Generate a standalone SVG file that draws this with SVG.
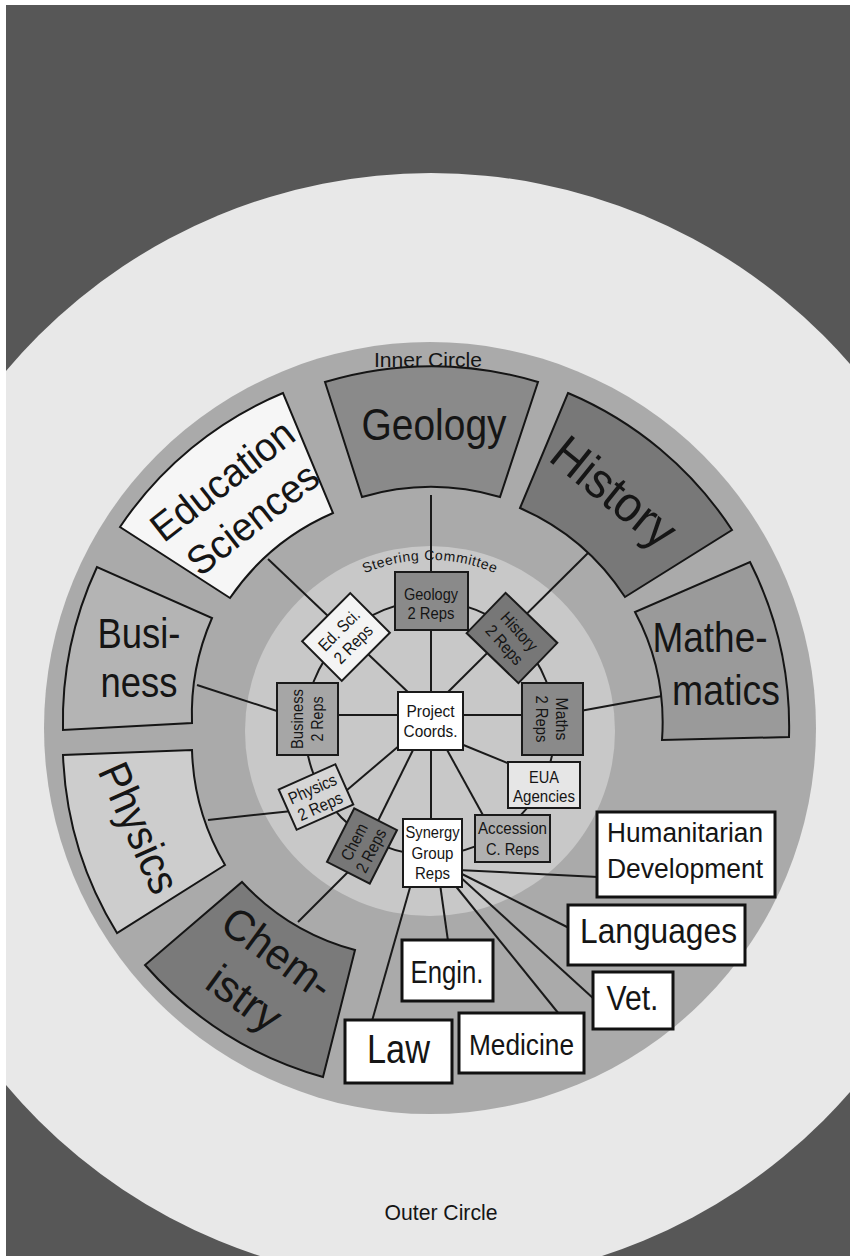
<svg xmlns="http://www.w3.org/2000/svg" width="850" height="1256" viewBox="0 0 850 1256">
<defs>
<style>
.sec{stroke:#151515;stroke-width:2}
.box{stroke:#1a1a1a;stroke-width:2}
.obox{fill:#fff;stroke:#111;stroke-width:3}
.t{font-family:"Liberation Sans",Arial,sans-serif;fill:#151515;text-anchor:middle}
.s{font-size:17px}
#connectors line,#connectors ellipse{stroke:#1a1a1a;stroke-width:2;fill:none}
</style>
<clipPath id="frame"><rect x="6" y="5" width="844" height="1251"/></clipPath>
<path id="steerArc" d="M262,728 A168,168 0 0 1 598,728"/>
</defs>
<rect width="850" height="1256" fill="#fff"/>
<g id="background" clip-path="url(#frame)">
<rect x="0" y="0" width="850" height="1256" fill="#575757"/>
<circle cx="431" cy="728" r="555" fill="#e8e8e8"/>
</g>
<circle id="inner-circle" cx="430" cy="728" r="386" fill="#aaaaaa"/>
<circle id="steering-circle" cx="430" cy="731" r="185" fill="#c8c8c8"/>
<text class="t" x="428" y="367" font-size="21" textLength="108" lengthAdjust="spacingAndGlyphs">Inner Circle</text>
<text class="t" x="441" y="1220" font-size="22" textLength="113" lengthAdjust="spacingAndGlyphs">Outer Circle</text>
<text class="t" font-size="14" letter-spacing="0.6" fill="#333"><textPath href="#steerArc" startOffset="50%">Steering Committee</textPath></text>

<g id="connectors">
<ellipse cx="430" cy="728" rx="125" ry="127"/>
<line x1="431" y1="495" x2="431" y2="695"/>
<line x1="588" y1="553" x2="444" y2="696"/>
<line x1="662" y1="696" x2="580" y2="711"/>
<line x1="463" y1="715" x2="522" y2="715"/>
<line x1="197" y1="685" x2="280" y2="712"/>
<line x1="338" y1="715" x2="398" y2="715"/>
<line x1="268" y1="559" x2="410" y2="694"/>
<line x1="208" y1="820" x2="292" y2="811"/>
<line x1="340" y1="796" x2="400" y2="745"/>
<line x1="298" y1="922" x2="350" y2="870"/>
<line x1="375" y1="827" x2="414" y2="748"/>
<line x1="431" y1="750" x2="431" y2="819"/>
<line x1="446" y1="748" x2="484" y2="817"/>
<line x1="461" y1="744" x2="510" y2="764"/>
<line x1="458" y1="870" x2="598" y2="877"/>
<line x1="458" y1="872" x2="569" y2="928"/>
<line x1="458" y1="875" x2="594" y2="999"/>
<line x1="454" y1="884" x2="559" y2="1014"/>
<line x1="440" y1="884" x2="448" y2="941"/>
<line x1="411" y1="884" x2="372" y2="1021"/>
</g>

<g id="geology">
<path class="sec" fill="#8a8a8a" d="M325,382 A366,366 0 0 1 538,382 L500,497 A244,244 0 0 0 362,497 Z"/>
<text class="t" x="434" y="440" font-size="44" textLength="145" lengthAdjust="spacingAndGlyphs">Geology</text>
</g>
<g id="history">
<path class="sec" fill="#787878" d="M568,393 A366,366 0 0 1 732,530 L625,597 A240,240 0 0 0 520,508 Z"/>
<text class="t" transform="translate(614,492) rotate(39)" y="17" font-size="50" textLength="145" lengthAdjust="spacingAndGlyphs">History</text>
</g>
<g id="mathematics">
<path class="sec" fill="#9a9a9a" d="M750,562 A366,366 0 0 1 789,737 L662,740 A236,236 0 0 0 635,612 Z"/>
<text class="t" x="710" y="652" font-size="42" textLength="115" lengthAdjust="spacingAndGlyphs">Mathe-</text>
<text class="t" x="726" y="705" font-size="42" textLength="108" lengthAdjust="spacingAndGlyphs">matics</text>
</g>
<g id="education-sciences">
<path class="sec" fill="#f6f6f6" d="M120,527 A366,366 0 0 1 283,393 L333,513 A240,240 0 0 0 230,598 Z"/>
<g transform="translate(237,499) rotate(-38)">
<text class="t" x="0" y="-10" font-size="40" textLength="170" lengthAdjust="spacingAndGlyphs">Education</text>
<text class="t" x="0" y="39" font-size="40" textLength="155" lengthAdjust="spacingAndGlyphs">Sciences</text>
</g>
</g>
<g id="business">
<path class="sec" fill="#b4b4b4" d="M63,730 A366,366 0 0 1 97,567 L212,618 A240,240 0 0 0 192,723 Z"/>
<text class="t" x="139" y="648" font-size="42" textLength="83" lengthAdjust="spacingAndGlyphs">Busi-</text>
<text class="t" x="139" y="697" font-size="42" textLength="77" lengthAdjust="spacingAndGlyphs">ness</text>
</g>
<g id="physics">
<path class="sec" fill="#cdcdcd" d="M117,933 A366,366 0 0 1 63,755 L192,750 A240,240 0 0 0 225,865 Z"/>
<text class="t" transform="translate(139,828) rotate(66)" y="15" font-size="44" textLength="138" lengthAdjust="spacingAndGlyphs">Physics</text>
</g>
<g id="chemistry">
<path class="sec" fill="#7a7a7a" d="M323,1077 A366,366 0 0 1 145,965 L242,882 A238,238 0 0 0 355,950 Z"/>
<g transform="translate(261,976) rotate(36)">
<text class="t" x="0" y="-13" font-size="44" textLength="125" lengthAdjust="spacingAndGlyphs">Chem-</text>
<text class="t" x="0" y="43" font-size="44">istry</text>
</g>
</g>

<g id="geology-reps">
<rect class="box" x="395" y="572" width="73" height="58" fill="#8a8a8a"/>
<text class="t s" x="431" y="600" textLength="54" lengthAdjust="spacingAndGlyphs">Geology</text>
<text class="t s" x="431" y="619" textLength="47" lengthAdjust="spacingAndGlyphs">2 Reps</text>
</g>
<g id="history-reps" transform="translate(512,638)">
<rect class="box" x="-36" y="-28" width="72" height="56" fill="#777" transform="rotate(44)"/>
<g transform="rotate(48)">
<text class="t s" x="0" y="-4" textLength="46" lengthAdjust="spacingAndGlyphs">History</text>
<text class="t s" x="0" y="16" textLength="47" lengthAdjust="spacingAndGlyphs">2 Reps</text>
</g>
</g>
<g id="edsci-reps" transform="translate(346,637)">
<rect class="box" x="-34" y="-28" width="68" height="56" fill="#f4f4f4" transform="rotate(-45)"/>
<g transform="rotate(-45)">
<text class="t s" x="0" y="-4" textLength="51" lengthAdjust="spacingAndGlyphs">Ed. Sci.</text>
<text class="t s" x="0" y="16" textLength="47" lengthAdjust="spacingAndGlyphs">2 Reps</text>
</g>
</g>
<g id="maths-reps">
<rect class="box" x="522" y="683" width="61" height="72" fill="#8a8a8a"/>
<g transform="translate(552,719) rotate(90)">
<text class="t s" x="0" y="-4" textLength="43" lengthAdjust="spacingAndGlyphs">Maths</text>
<text class="t s" x="0" y="16" textLength="47" lengthAdjust="spacingAndGlyphs">2 Reps</text>
</g>
</g>
<g id="business-reps">
<rect class="box" x="277" y="683" width="61" height="72" fill="#a6a6a6"/>
<g transform="translate(307,719) rotate(-90)">
<text class="t s" x="0" y="-4" textLength="60" lengthAdjust="spacingAndGlyphs">Business</text>
<text class="t s" x="0" y="16" textLength="45" lengthAdjust="spacingAndGlyphs">2 Reps</text>
</g>
</g>
<g id="physics-reps" transform="translate(316,797) rotate(-24)">
<rect class="box" x="-31" y="-22" width="62" height="44" fill="#d6d6d6"/>
<text class="t s" x="0" y="-3" textLength="51" lengthAdjust="spacingAndGlyphs">Physics</text>
<text class="t s" x="0" y="16" textLength="47" lengthAdjust="spacingAndGlyphs">2 Reps</text>
</g>
<g id="chem-reps" transform="translate(362,846) rotate(-63)">
<rect class="box" x="-30" y="-24" width="60" height="48" fill="#777"/>
<text class="t s" x="0" y="-3" textLength="39" lengthAdjust="spacingAndGlyphs">Chem</text>
<text class="t s" x="0" y="16" textLength="47" lengthAdjust="spacingAndGlyphs">2 Reps</text>
</g>
<g id="project-coords">
<rect class="box" x="398" y="692" width="65" height="58" fill="#fff"/>
<text class="t s" x="430.5" y="717" textLength="48" lengthAdjust="spacingAndGlyphs">Project</text>
<text class="t s" x="430.5" y="737" textLength="54" lengthAdjust="spacingAndGlyphs">Coords.</text>
</g>
<g id="eua-agencies">
<rect class="box" x="508" y="762" width="72" height="46" fill="#e6e6e6" stroke="#555"/>
<text class="t s" x="544" y="783" textLength="30" lengthAdjust="spacingAndGlyphs">EUA</text>
<text class="t s" x="544" y="802" textLength="62" lengthAdjust="spacingAndGlyphs">Agencies</text>
</g>
<g id="accession-reps">
<rect class="box" x="475" y="815" width="75" height="47" fill="#b0b0b0" stroke="#555"/>
<text class="t s" x="512.5" y="834" textLength="69" lengthAdjust="spacingAndGlyphs">Accession</text>
<text class="t s" x="512.5" y="855" textLength="53" lengthAdjust="spacingAndGlyphs">C. Reps</text>
</g>
<g id="synergy-reps">
<rect class="box" x="403" y="819" width="59" height="68" fill="#fff"/>
<text class="t s" x="432.5" y="838" textLength="54" lengthAdjust="spacingAndGlyphs">Synergy</text>
<text class="t s" x="432.5" y="859" textLength="42" lengthAdjust="spacingAndGlyphs">Group</text>
<text class="t s" x="432.5" y="879" textLength="35" lengthAdjust="spacingAndGlyphs">Reps</text>
</g>

<g id="humanitarian">
<rect class="obox" x="597" y="812" width="178" height="85"/>
<text class="t" x="685" y="842" font-size="27" textLength="156" lengthAdjust="spacingAndGlyphs">Humanitarian</text>
<text class="t" x="685" y="878" font-size="27" textLength="156" lengthAdjust="spacingAndGlyphs">Development</text>
</g>
<g id="languages">
<rect class="obox" x="568" y="905" width="177" height="60"/>
<text class="t" x="658.5" y="943" font-size="35" textLength="157" lengthAdjust="spacingAndGlyphs">Languages</text>
</g>
<g id="vet">
<rect class="obox" x="593" y="972" width="80" height="57"/>
<text class="t" x="632.5" y="1010" font-size="35" textLength="52" lengthAdjust="spacingAndGlyphs">Vet.</text>
</g>
<g id="medicine">
<rect class="obox" x="459" y="1013" width="125" height="60"/>
<text class="t" x="521.5" y="1055" font-size="30" textLength="105" lengthAdjust="spacingAndGlyphs">Medicine</text>
</g>
<g id="engin">
<rect class="obox" x="402" y="940" width="91" height="61"/>
<text class="t" x="447" y="983" font-size="31" textLength="73" lengthAdjust="spacingAndGlyphs">Engin.</text>
</g>
<g id="law">
<rect class="obox" x="345" y="1020" width="107" height="63"/>
<text class="t" x="398.5" y="1063" font-size="40" textLength="63" lengthAdjust="spacingAndGlyphs">Law</text>
</g>
</svg>
